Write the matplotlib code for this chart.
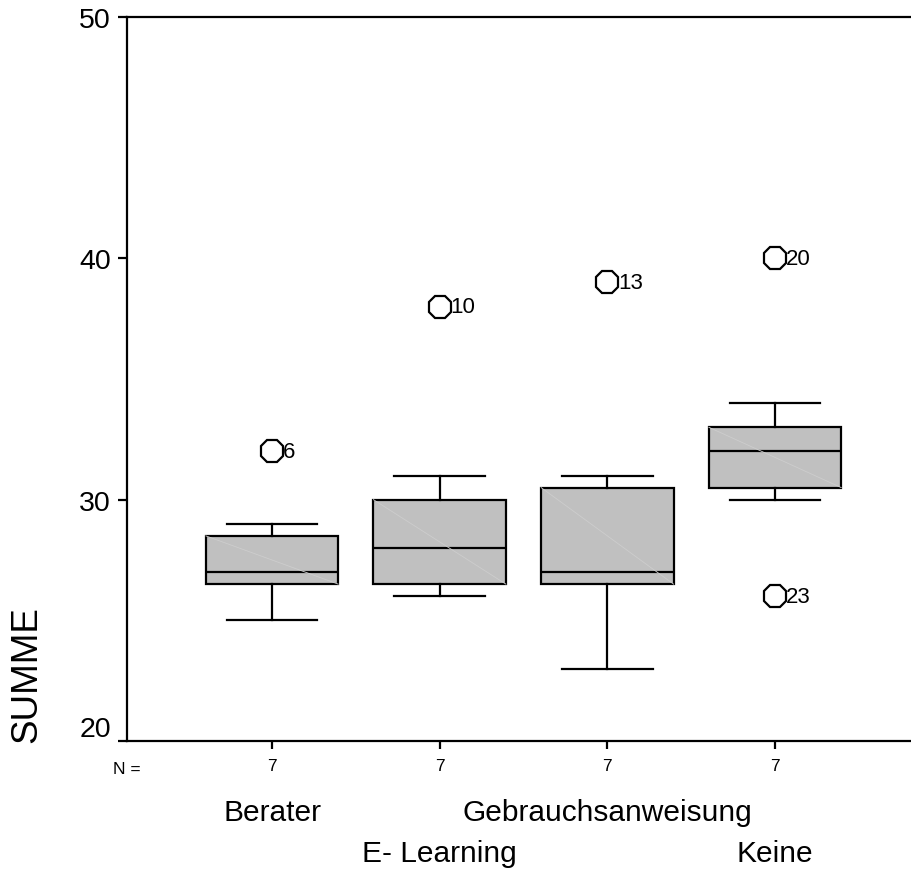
import matplotlib
matplotlib.use("Agg")
from matplotlib import pyplot as plt
from matplotlib.transforms import ScaledTranslation

plt.rcParams['font.family'] = ['Liberation Sans', 'DejaVu Sans']

# data
groups = ["Berater", "E- Learning", "Gebrauchsanweisung", "Keine"]
n_counts = [7, 7, 7, 7]
medians = [27, 28, 27, 32]
q1 = [26.5, 26.5, 26.5, 30.5]
q3 = [28.5, 30, 30.5, 33]
whis_lo = [25, 26, 23, 30]
whis_hi = [29, 31, 31, 34]
outliers = [[32], [38], [39], [40, 26]]
outlier_ids = [["6"], ["10"], ["13"], ["20", "23"]]
yticks = [20, 30, 40, 50]

W, H = 912, 878
fig = plt.figure(figsize=(W / 100, H / 100), dpi=100)
ax = fig.add_axes([127 / W, (H - 742) / H, 1 - 127 / W, (742 - 18) / H])

positions = list(range(1, len(groups) + 1))
stats = []
for i in range(len(groups)):
    stats.append({"med": medians[i], "q1": q1[i], "q3": q3[i],
                  "whislo": whis_lo[i], "whishi": whis_hi[i],
                  "fliers": outliers[i], "label": groups[i]})

lw = 1.6
ax.bxp(stats, positions=positions, widths=0.79, capwidths=0.54,
       patch_artist=True, showfliers=True,
       boxprops=dict(facecolor="#c0c0c0", edgecolor="black", linewidth=lw),
       medianprops=dict(color="black", linewidth=lw),
       whiskerprops=dict(color="black", linewidth=lw),
       capprops=dict(color="black", linewidth=lw),
       flierprops=dict(marker="8", markersize=17, markerfacecolor="white",
                       markeredgecolor="black", markeredgewidth=1.6))

# faint diagonal inside each box (SPSS fill artefact)
for p, lo, hi in zip(positions, q1, q3):
    ax.plot([p - 0.395, p + 0.395], [hi, lo], color="#cdcdcd", lw=0.6, zorder=2.5)

# case numbers next to outliers
for p, vals, ids in zip(positions, outliers, outlier_ids):
    for v, s in zip(vals, ids):
        ax.annotate(s, xy=(p, v), xytext=(7.5, 0), textcoords="offset points",
                    ha="left", va="center", fontsize=16)

ax.set_xlim(0.135, 4.817)
ax.set_ylim(20, 50)
ax.spines["right"].set_visible(False)
for s in ["left", "top", "bottom"]:
    ax.spines[s].set_linewidth(1.6)

ax.set_yticks(yticks)
ax.set_yticklabels([str(t) for t in yticks], fontsize=20.5)
ax.tick_params(axis="y", direction="out", length=6.5, width=1.6, pad=5)
# SPSS lifts the bottom label above the axis line
lab20 = ax.get_yticklabels()[0]
lab20.set_transform(lab20.get_transform() + ScaledTranslation(0, 15 / 100, fig.dpi_scale_trans))

ax.set_xticks(positions)
ax.set_xticklabels([str(n) for n in n_counts], fontsize=12.5)
ax.tick_params(axis="x", direction="out", length=5.8, width=1.6, pad=6.5)

ax.annotate("N =", xy=(0, 0), xycoords="axes fraction", xytext=(0, -23),
            textcoords="offset points", ha="center", va="baseline", fontsize=12.5)

# staggered group labels
for i, (p, g) in enumerate(zip(positions, groups)):
    off = -57 if i % 2 == 0 else -86.5
    ax.annotate(g, xy=(p, 0), xycoords=("data", "axes fraction"), xytext=(0, off),
                textcoords="offset points", ha="center", va="baseline", fontsize=21.5)

fig.text(27 / W, (H - 675) / H, "SUMME", rotation=90, ha="center", va="center",
         fontsize=26.5)

fig.savefig("out.png", dpi=100)
